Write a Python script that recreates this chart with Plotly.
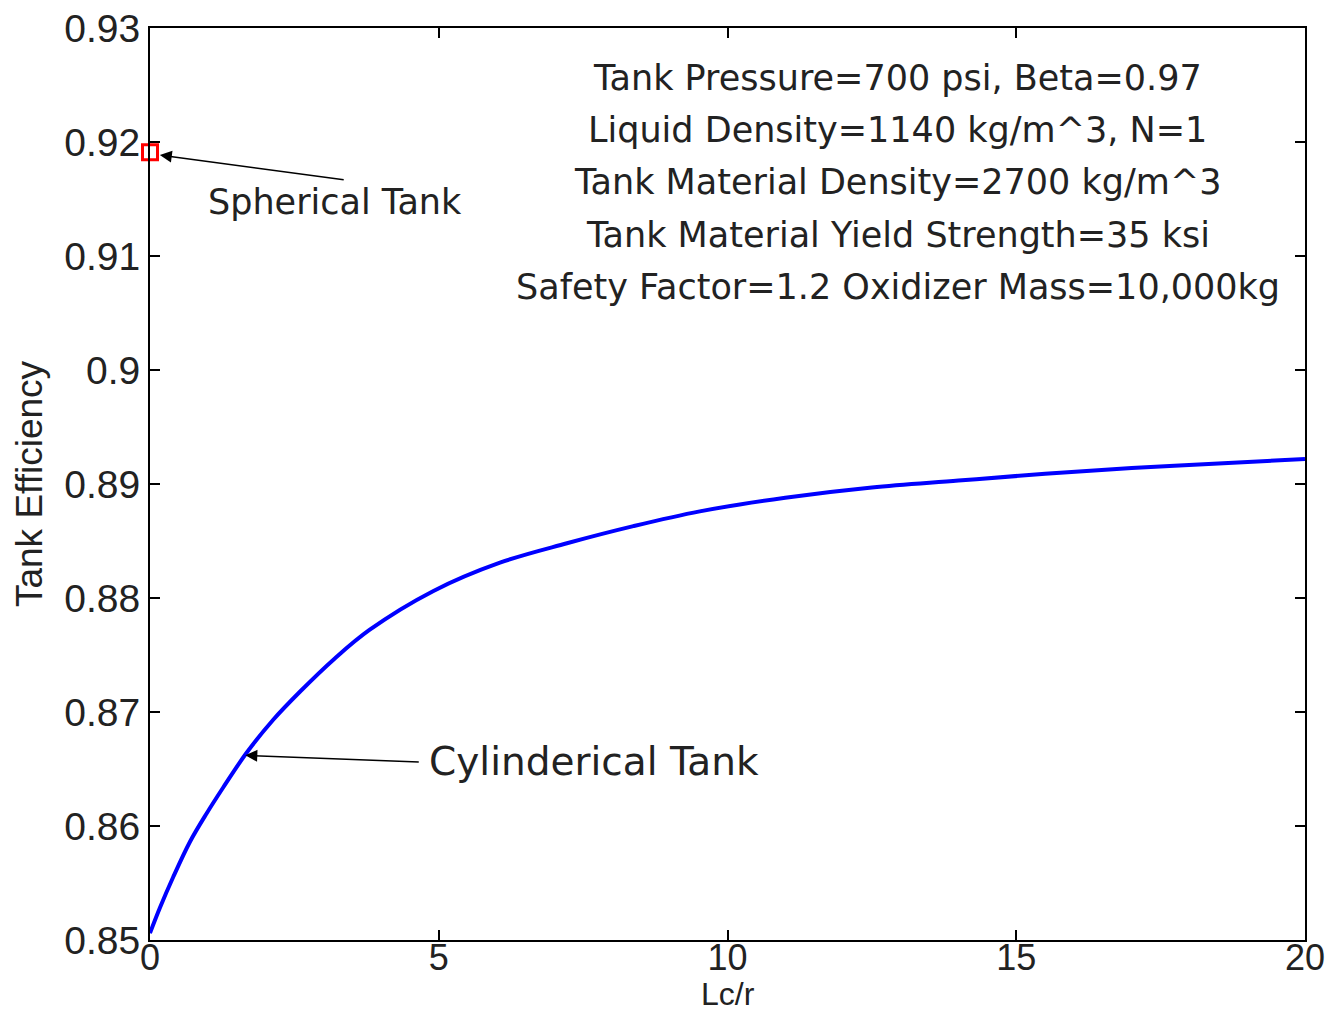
import plotly.graph_objects as go

# Data
lc_r = [0, 0.17, 0.4, 0.69, 0.98, 1.27, 1.67, 2.13, 2.6, 3.2, 3.8, 4.9, 6.06, 7.22, 8.37, 9.52,
        11.0, 12.5, 14.0, 15.5, 17.0, 18.5, 20.0]
efficiency = [0.8506, 0.8528, 0.8555, 0.8586, 0.8611, 0.8634, 0.8664, 0.8693, 0.8718, 0.8747, 0.8772,
              0.8806, 0.8831, 0.8848, 0.8863, 0.8876, 0.8888, 0.8897, 0.8903, 0.8909, 0.8914,
              0.8918, 0.8922]
sphere_x = [0]
sphere_y = [0.9191]

x_ticks = [0, 5, 10, 15, 20]
y_ticks = [0.85, 0.86, 0.87, 0.88, 0.89, 0.90, 0.91, 0.92, 0.93]
y_tick_labels = ["0.85", "0.86", "0.87", "0.88", "0.89", "0.9", "0.91", "0.92", "0.93"]

x_title = "Lc/r"
y_title = "Tank Efficiency"

info_lines = [
    "Tank Pressure=700 psi, Beta=0.97",
    "Liquid Density=1140 kg/m^3, N=1",
    "Tank Material Density=2700 kg/m^3",
    "Tank Material Yield Strength=35 ksi",
    "Safety Factor=1.2 Oxidizer Mass=10,000kg",
]

fig = go.Figure()
fig.add_trace(go.Scatter(x=lc_r, y=efficiency, mode="lines",
                         line=dict(color="#0000FF", width=4, shape="spline", smoothing=1.0),
                         showlegend=False))
fig.add_trace(go.Scatter(x=sphere_x, y=sphere_y, mode="markers",
                         marker=dict(symbol="square-open", size=15, color="#FF0000",
                                     line=dict(width=3, color="#FF0000")),
                         cliponaxis=False, showlegend=False))

ann_font = dict(family="DejaVu Sans", size=35, color="#222222")
annotations = []
for i, line in enumerate(info_lines):
    annotations.append(dict(x=12.95, y=0.92561 - i * 0.00458, xref="x", yref="y", text=line,
                            showarrow=False, font=ann_font, xanchor="center", yanchor="middle"))

# arrows
annotations.append(dict(x=0.17, y=0.91886, ax=3.38, ay=0.91667, axref="x", ayref="y",
                        xref="x", yref="y", text="", showarrow=True, arrowhead=2,
                        arrowsize=1.6, arrowwidth=1.5, arrowcolor="black"))
annotations.append(dict(x=1.65, y=0.8662, ax=4.68, ay=0.86561, axref="x", ayref="y",
                        xref="x", yref="y", text="", showarrow=True, arrowhead=2,
                        arrowsize=1.6, arrowwidth=1.5, arrowcolor="black"))
annotations.append(dict(x=3.2, y=0.91474, xref="x", yref="y", text="Spherical Tank",
                        showarrow=False, font=dict(family="DejaVu Sans", size=35, color="#222222"),
                        xanchor="center", yanchor="middle"))
annotations.append(dict(x=4.8, y=0.86562, xref="x", yref="y", text="Cylinderical Tank",
                        showarrow=False, font=dict(family="DejaVu Sans", size=39, color="#222222"),
                        xanchor="left", yanchor="middle"))
# x-axis title placed as paper annotation just below tick labels
annotations.append(dict(x=0.5, y=-0.0805, xref="paper", yref="paper", text=x_title,
                        showarrow=False, font=dict(family="Liberation Sans", size=32, color="#222222"),
                        xanchor="center", yanchor="bottom", borderpad=0))

axis_common = dict(showgrid=False, zeroline=False, showline=True, linecolor="black", linewidth=2,
                   mirror="ticks", ticks="inside", ticklen=10, tickwidth=2, tickcolor="black",
                   automargin=False)
tick_font = dict(family="Liberation Sans", size=39, color="#222222")

fig.update_layout(
    width=1333, height=1015,
    margin=dict(l=150, r=28, t=28, b=75),
    plot_bgcolor="white", paper_bgcolor="white",
    xaxis=dict(range=[0, 20], tickvals=x_ticks, ticktext=[str(v) for v in x_ticks],
               ticklabelstandoff=-15, tickfont=dict(family="Liberation Sans", size=36, color="#222222"),
               **axis_common),
    yaxis=dict(range=[0.85, 0.93], tickvals=y_ticks, ticktext=y_tick_labels, tickfont=tick_font,
               title=dict(text=y_title, font=dict(family="Liberation Sans", size=37, color="#222222"),
                          standoff=10),
               **axis_common),
    annotations=annotations,
)
fig.write_html("out.html")
